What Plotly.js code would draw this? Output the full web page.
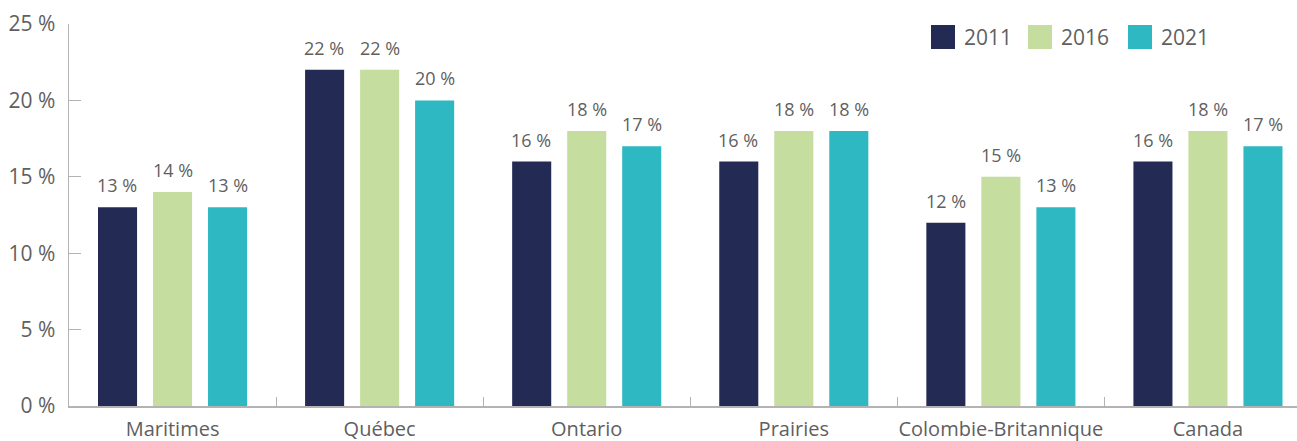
<!DOCTYPE html>
<html><head><meta charset="utf-8">
<script src="https://cdn.plot.ly/plotly-3.0.1.min.js"></script>
<style>html,body{margin:0;padding:0;background:#fff}#chart{width:1297px;height:441px}</style>
</head><body><div id="chart"></div>
<script>
const categories = ["Maritimes", "Québec", "Ontario", "Prairies", "Colombie-Britannique", "Canada"];
const years = ["2011", "2016", "2021"];
const values2011 = [13, 22, 16, 16, 12, 16];
const values2016 = [14, 22, 18, 18, 15, 18];
const values2021 = [13, 20, 17, 18, 13, 17];
const colors = ["#232B55", "#C5DE9F", "#2EB8C2"];
const series = [values2011, values2016, values2021];
const font = "'Open Sans', sans-serif";
const txt = "#5f5f5f";

const traces = series.map((vals, i) => ({
  type: "bar", name: years[i], x: categories, y: vals,
  marker: {color: colors[i]},
  showlegend: false, hoverinfo: "skip"
}));

const shapes = [], annotations = [];
// value labels above bars
series.forEach((vals, i) => {
  vals.forEach((v, j) => {
    annotations.push({xref: "x", yref: "y", x: categories[j], y: v,
      xshift: (i - 1) * 55.3, yshift: 8, xanchor: "center", yanchor: "bottom",
      showarrow: false, text: v + " %",
      font: {family: font, size: 18, color: txt}});
  });
});

const legX = [931, 1028, 1128];
years.forEach((y, i) => {
  shapes.push({type: "rect", xref: "paper", yref: "paper",
    x0: (legX[i] - 69) / 1228, x1: (legX[i] + 24 - 69) / 1228,
    y0: (406 - 49) / 382, y1: (406 - 25) / 382,
    fillcolor: colors[i], line: {width: 0}});
  annotations.push({xref: "paper", yref: "paper", x: (legX[i] + 31 - 69) / 1228,
    y: (406 - 37) / 382, xanchor: "left", yanchor: "middle", showarrow: false,
    text: y, font: {family: font, size: 21, color: txt}});
});

const layout = {
  width: 1297, height: 441,
  margin: {l: 69, r: 0, t: 24, b: 35},
  paper_bgcolor: "#fff", plot_bgcolor: "#fff",
  barmode: "group", bargap: 0.203, bargroupgap: 0.29,
  font: {family: font, color: txt},
  showlegend: false,
  xaxis: {type: "category", range: [-0.5, 5.43], showline: true, linecolor: "#b3b3b3", linewidth: 1.5,
    ticks: "inside", tickson: "boundaries", ticklen: 9, tickcolor: "#b3b3b3",
    tickangle: 0, ticklabelstandoff: 4, automargin: false,
    tickfont: {family: font, size: 20, color: txt}, showgrid: false, zeroline: false, fixedrange: true},
  yaxis: {range: [0, 25], dtick: 5, ticksuffix: " %", showline: true, linecolor: "#b3b3b3", linewidth: 1.5,
    ticks: "inside", ticklen: 12, tickcolor: "#b3b3b3", showgrid: false, zeroline: false,
    ticklabelstandoff: 8, automargin: false,
    tickfont: {family: font, size: 21, color: txt}, fixedrange: true},
  shapes: shapes, annotations: annotations
};
Plotly.newPlot("chart", traces, layout, {displayModeBar: false, staticPlot: true});
</script></body></html>
